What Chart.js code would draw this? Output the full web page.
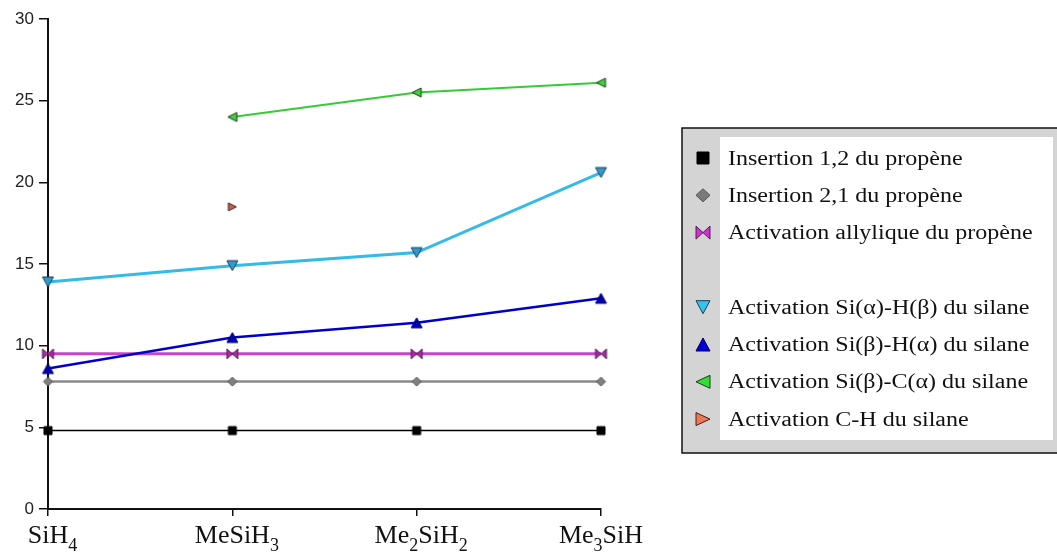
<!DOCTYPE html>
<html><head><meta charset="utf-8">
<script src="https://cdn.jsdelivr.net/npm/chart.js@4/dist/chart.umd.min.js"></script>
<style>html,body{margin:0;padding:0;background:#fff;overflow:hidden}</style>
</head><body>
<canvas id="c" width="1057" height="552"></canvas>
<script>
// ---- data ----
const categories = ['SiH4', 'MeSiH3', 'Me2SiH2', 'Me3SiH'];
const yMin = 0, yMax = 30, yStep = 5;
const insertion12 = [4.8, 4.8, 4.8, 4.8];
const insertion21 = [7.8, 7.8, 7.8, 7.8];
const allylique = [9.5, 9.5, 9.5, 9.5];
const siAlphaHBeta = [13.9, 14.9, 15.7, 20.6];
const siBetaHAlpha = [8.6, 10.5, 11.4, 12.9];
const siBetaCAlpha = [null, 24.0, 25.5, 26.1];
const activationCH = [null, 18.5, null, null];
const seriesLabels = [
  'Insertion 1,2 du propène',
  'Insertion 2,1 du propène',
  'Activation allylique du propène',
  'Activation Si(α)-H(β) du silane',
  'Activation Si(β)-H(α) du silane',
  'Activation Si(β)-C(α) du silane',
  'Activation C-H du silane'
];
const legendRows = [0, 1, 2, null, 3, 4, 5, 6];

// ---- styles ----
const styles = [
  {shape:'square',  line:'#000000', lw:1.5, fill:'#000000', stroke:'#000000', w:8,  h:8,  lfill:'#000000'},
  {shape:'diamond', line:'#888888', lw:2.5, fill:'#808080', stroke:'#555555', w:9,  h:9,  lfill:'#7a7a7a'},
  {shape:'bowtie',  line:'#c844c8', lw:3,   fill:'#a030a0', stroke:'#5a1a5a', w:11, h:10, lfill:'#cc33cc'},
  {shape:'down',    line:'#33bbe8', lw:3,   fill:'#3399c8', stroke:'#1d3d5a', w:11, h:10, lfill:'#33c4ee'},
  {shape:'up',      line:'#0000cc', lw:2.5, fill:'#0000bb', stroke:'#000055', w:11, h:10, lfill:'#0000dd'},
  {shape:'left',    line:'#33cc33', lw:2,   fill:'#44cc44', stroke:'#114411', w:9,  h:9,  lfill:'#33dd33'},
  {shape:'right',   line:null,      lw:0,   fill:'#c06048', stroke:'#4a2018', w:8,  h:8,  lfill:'#ee7755'}
];

function drawShape(ctx, shape, cx, cy, w, h, fill, stroke, lw) {
  const x0 = cx - w/2, x1 = cx + w/2, y0 = cy - h/2, y1 = cy + h/2;
  ctx.beginPath();
  switch (shape) {
    case 'square': ctx.rect(x0, y0, w, h); break;
    case 'diamond': ctx.moveTo(cx,y0); ctx.lineTo(x1,cy); ctx.lineTo(cx,y1); ctx.lineTo(x0,cy); ctx.closePath(); break;
    case 'bowtie': ctx.moveTo(x0,y0); ctx.lineTo(cx,cy); ctx.lineTo(x0,y1); ctx.closePath();
                   ctx.moveTo(x1,y0); ctx.lineTo(cx,cy); ctx.lineTo(x1,y1); ctx.closePath(); break;
    case 'up': ctx.moveTo(cx,y0); ctx.lineTo(x1,y1); ctx.lineTo(x0,y1); ctx.closePath(); break;
    case 'down': ctx.moveTo(x0,y0); ctx.lineTo(x1,y0); ctx.lineTo(cx,y1); ctx.closePath(); break;
    case 'left': ctx.moveTo(x0,cy); ctx.lineTo(x1,y0); ctx.lineTo(x1,y1); ctx.closePath(); break;
    case 'right': ctx.moveTo(x1,cy); ctx.lineTo(x0,y0); ctx.lineTo(x0,y1); ctx.closePath(); break;
  }
  ctx.fillStyle = fill; ctx.fill();
  ctx.lineWidth = lw; ctx.strokeStyle = stroke; ctx.lineJoin = 'miter'; ctx.stroke();
}
function markerCanvas(s) {
  const pad = 2;
  const c = document.createElement('canvas');
  c.width = s.w + pad*2; c.height = s.h + pad*2;
  const ctx = c.getContext('2d');
  drawShape(ctx, s.shape, c.width/2, c.height/2, s.w, s.h, s.fill, s.stroke, 1);
  return c;
}

const seriesData = [insertion12, insertion21, allylique, siAlphaHBeta, siBetaHAlpha, siBetaCAlpha, activationCH];
const datasets = seriesData.map((d, i) => {
  const s = styles[i];
  return {
    label: seriesLabels[i],
    data: d,
    borderColor: s.line || 'rgba(0,0,0,0)',
    backgroundColor: s.fill,
    borderWidth: s.lw,
    showLine: !!s.line,
    pointStyle: markerCanvas(s),
    pointRadius: 5,
    pointHoverRadius: 5,
    tension: 0,
    spanGaps: false,
    clip: false,
    order: 7 - i
  };
});

function splitSub(label) {
  // returns segments [{t, sub}]
  const segs = [];
  for (const ch of label) {
    const sub = /[0-9]/.test(ch);
    if (segs.length && segs[segs.length-1].sub === sub) segs[segs.length-1].t += ch;
    else segs.push({t: ch, sub});
  }
  return segs;
}

const customDraw = {
  id: 'customDraw',
  afterDraw(chart) {
    const ctx = chart.ctx;
    const xs = chart.scales.x;
    // x category labels with subscripts
    const mainFont = '26px "Liberation Serif", "Times New Roman", serif';
    const subFont = '18px "Liberation Serif", "Times New Roman", serif';
    ctx.save();
    ctx.fillStyle = '#111';
    ctx.textBaseline = 'alphabetic';
    ctx.textAlign = 'left';
    categories.forEach((lab, i) => {
      const segs = splitSub(lab);
      let total = 0, trailing = 0;
      segs.forEach((sg, k) => {
        ctx.font = sg.sub ? subFont : mainFont;
        sg.w = ctx.measureText(sg.t).width;
        total += sg.w;
        if (k === segs.length - 1 && sg.sub) trailing = sg.w;
      });
      const cx = xs.getPixelForValue(i);
      let x = cx - (total - trailing) / 2;
      const base = 543;
      segs.forEach(sg => {
        ctx.font = sg.sub ? subFont : mainFont;
        ctx.fillText(sg.t, x, sg.sub ? base + 8 : base);
        x += sg.w;
      });
    });
    ctx.restore();

    // legend
    ctx.save();
    ctx.fillStyle = '#d4d4d4';
    ctx.fillRect(682, 128, 376, 325);
    ctx.lineWidth = 1.5;
    ctx.strokeStyle = '#111';
    ctx.strokeRect(682, 128, 380, 325);
    ctx.fillStyle = '#ffffff';
    ctx.fillRect(720, 137, 333, 303);
    ctx.font = '20px "Liberation Serif", "Times New Roman", serif';
    ctx.fillStyle = '#111';
    ctx.textBaseline = 'alphabetic';
    legendRows.forEach((idx, k) => {
      if (idx === null) return;
      const y = 158 + k * 37.3;
      const s = styles[idx];
      drawShape(ctx, s.shape, 703, y, s.shape === 'square' ? 12 : 14, s.shape === 'square' ? 12 : 13, s.lfill, s.stroke, 1);
      ctx.save();
      ctx.translate(728, y + 6.5);
      ctx.scale(1.2, 1);
      ctx.fillStyle = '#111';
      ctx.fillText(seriesLabels[idx], 0, 0);
      ctx.restore();
    });
    ctx.restore();
  }
};

new Chart(document.getElementById('c'), {
  type: 'line',
  data: { labels: categories, datasets },
  options: {
    responsive: false,
    animation: false,
    devicePixelRatio: 1,
    layout: { padding: { top: 19, right: 456, left: 0, bottom: 0 } },
    plugins: { legend: { display: false }, tooltip: { enabled: false } },
    scales: {
      x: {
        type: 'category',
        offset: false,
        ticks: { display: false },
        grid: { drawOnChartArea: false, drawTicks: true, tickLength: 7, color: '#111', lineWidth: 1.5 },
        border: { color: '#111', width: 2 },
        afterFit: s => { s.height = 43; }
      },
      y: {
        min: yMin, max: yMax,
        ticks: { stepSize: yStep, color: '#222', padding: 5,
                 font: { family: '"Liberation Sans", Arial, sans-serif', size: 17 } },
        grid: { drawOnChartArea: false, drawTicks: true, tickLength: 9, color: '#111', lineWidth: 1.5 },
        border: { color: '#111', width: 2 },
        afterFit: s => { s.width = 48; }
      }
    }
  },
  plugins: [customDraw]
});
</script>
</body></html>
